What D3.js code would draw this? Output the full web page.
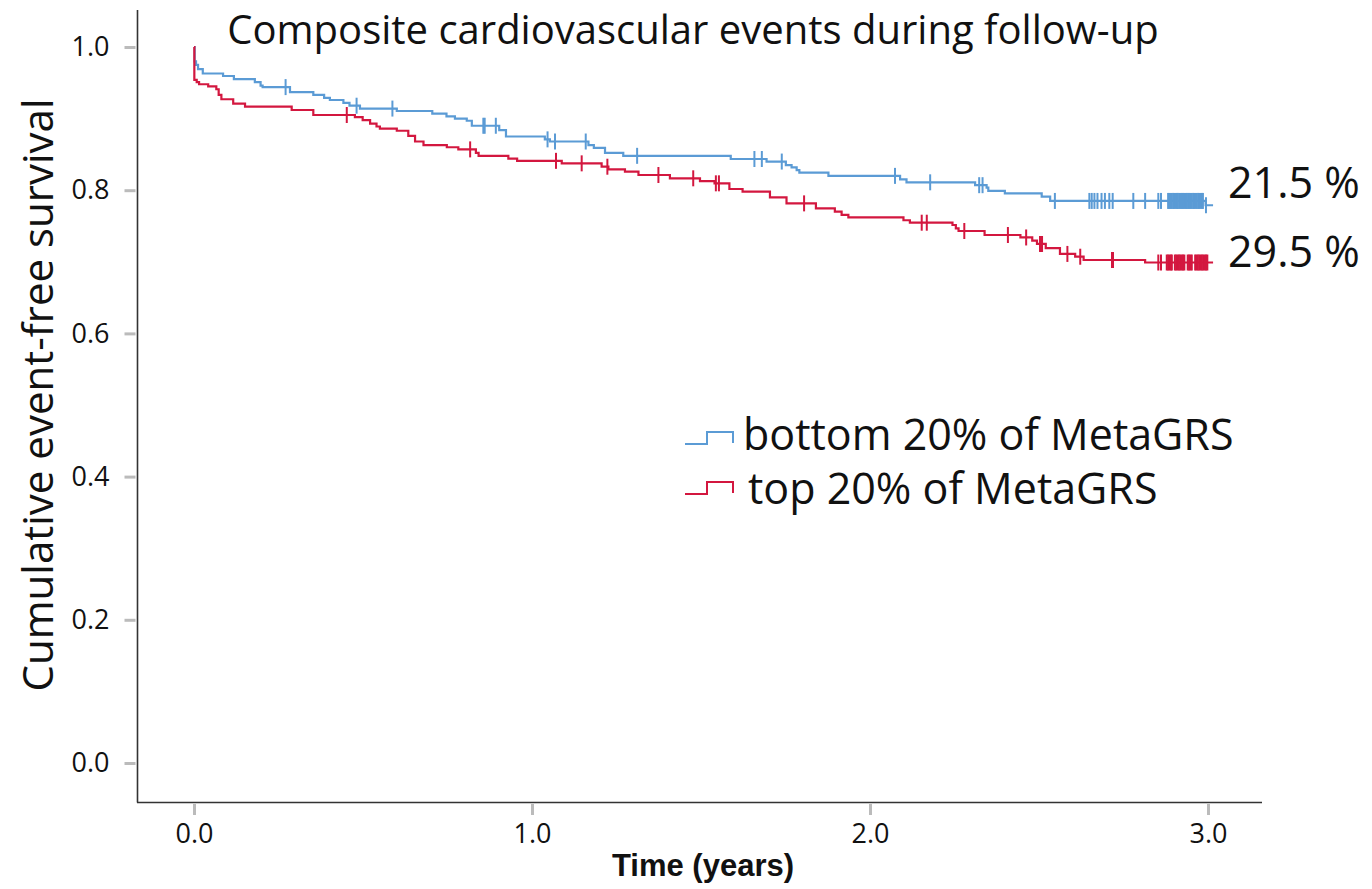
<!DOCTYPE html>
<html>
<head>
<meta charset="utf-8">
<script src="https://cdn.jsdelivr.net/npm/d3@7"></script>
<style>
  html, body { margin: 0; padding: 0; background: #fff; }
  svg { display: block; }
</style>
</head>
<body>
<svg id="chart" width="1372" height="889"></svg>
<script>
// ---------- data ----------
const titleText = "Composite cardiovascular events during follow-up";
const yLabelText = "Cumulative event-free survival";
const xLabelText = "Time (years)";
const xTickValues = [0, 1, 2, 3];
const xTickLabels = ["0.0", "1.0", "2.0", "3.0"];
const yTickValues = [0, 0.2, 0.4, 0.6, 0.8, 1.0];
const yTickLabels = ["0.0", "0.2", "0.4", "0.6", "0.8", "1.0"];
const seriesNames = ["bottom 20% of MetaGRS", "top 20% of MetaGRS"];
const endLabels = ["21.5 %", "29.5 %"];

// bottom 20% (blue) step function: event times and survival after each step
const blueTime = [0.000, 0.002, 0.006, 0.012, 0.026, 0.086, 0.118, 0.180, 0.197, 0.203, 0.284, 0.353, 0.385, 0.402, 0.442, 0.460, 0.491, 0.600, 0.705, 0.747, 0.772, 0.807, 0.822, 0.903, 0.923, 1.038, 1.053, 1.167, 1.183, 1.216, 1.270, 1.588, 1.694, 1.751, 1.768, 1.783, 1.791, 1.877, 2.089, 2.108, 2.311, 2.345, 2.350, 2.399, 2.508, 2.533, 2.993, 3.015];
const blueSurv = [1.000, 0.980, 0.975, 0.969, 0.963, 0.9595, 0.955, 0.951, 0.946, 0.944, 0.937, 0.933, 0.929, 0.926, 0.922, 0.918, 0.914, 0.9106, 0.907, 0.903, 0.900, 0.897, 0.890, 0.884, 0.875, 0.871, 0.868, 0.863, 0.859, 0.852, 0.848, 0.8436, 0.840, 0.835, 0.832, 0.828, 0.8245, 0.820, 0.815, 0.811, 0.807, 0.8035, 0.799, 0.7955, 0.791, 0.785, 0.779, 0.779];
const blueCensor = [0.271, 0.481, 0.587, 0.856, 0.860, 0.893, 1.046, 1.068, 1.159, 1.311, 1.658, 1.680, 1.739, 2.074, 2.178, 2.323, 2.333, 2.547, 2.649, 2.656, 2.664, 2.673, 2.685, 2.695, 2.708, 2.718, 2.779, 2.814, 2.853, 2.861, 2.882, 2.886, 2.889, 2.893, 2.897, 2.900, 2.904, 2.908, 2.911, 2.915, 2.919, 2.922, 2.926, 2.930, 2.934, 2.937, 2.941, 2.945, 2.948, 2.952, 2.956, 2.959, 2.963, 2.967, 2.971, 2.974, 2.978, 2.982, 2.985, 2.994];

// top 20% (red) step function
const redTime = [0.000, 0.001, 0.008, 0.015, 0.042, 0.066, 0.073, 0.081, 0.116, 0.151, 0.289, 0.353, 0.476, 0.499, 0.521, 0.540, 0.550, 0.600, 0.634, 0.654, 0.679, 0.748, 0.782, 0.834, 0.842, 0.930, 0.956, 1.088, 1.206, 1.226, 1.275, 1.315, 1.408, 1.497, 1.540, 1.584, 1.623, 1.704, 1.753, 1.840, 1.896, 1.916, 1.936, 2.099, 2.118, 2.244, 2.254, 2.262, 2.339, 2.445, 2.480, 2.494, 2.520, 2.562, 2.607, 2.632, 2.814, 3.015];
const redSurv = [1.000, 0.954, 0.951, 0.948, 0.945, 0.941, 0.933, 0.927, 0.921, 0.9166, 0.912, 0.905, 0.902, 0.898, 0.893, 0.889, 0.886, 0.883, 0.876, 0.868, 0.863, 0.860, 0.857, 0.852, 0.848, 0.844, 0.841, 0.8375, 0.8328, 0.829, 0.8259, 0.8212, 0.8166, 0.8128, 0.8096, 0.8017, 0.798, 0.790, 0.7816, 0.7747, 0.770, 0.7654, 0.762, 0.758, 0.7546, 0.7514, 0.7467, 0.743, 0.7374, 0.734, 0.7295, 0.7249, 0.719, 0.711, 0.7071, 0.7025, 0.699, 0.699];
const redCensor = [0.452, 0.817, 1.071, 1.147, 1.223, 1.374, 1.477, 1.544, 1.553, 1.805, 2.153, 2.168, 2.279, 2.408, 2.462, 2.503, 2.506, 2.509, 2.584, 2.622, 2.716, 2.719, 2.853, 2.861, 2.878, 2.882, 2.886, 2.890, 2.893, 2.902, 2.906, 2.910, 2.914, 2.918, 2.922, 2.926, 2.930, 2.940, 2.944, 2.948, 2.952, 2.962, 2.966, 2.970, 2.974, 2.978, 2.982, 2.986, 2.990, 2.994, 2.998];

// ---------- drawing ----------
const BLUE = "#5b9bd5";
const RED = "#d3173f";
const svg = d3.select("#chart");
svg.append("rect").attr("width", 1372).attr("height", 889).attr("fill", "#fff");

const x = d3.scaleLinear().domain([0, 3]).range([194, 1208]);
const y = d3.scaleLinear().domain([0, 1]).range([763, 47]);

// title (kept fully inside the picture)
svg.append("text")
  .attr("x", 693).attr("y", 44)
  .attr("text-anchor", "middle")
  .attr("font-family", "Open Sans")
  .attr("font-size", 40)
  .attr("fill", "#111")
  .text(titleText);

// axis lines
svg.append("line").attr("x1", 137.5).attr("x2", 137.5).attr("y1", 10).attr("y2", 802.5)
  .attr("stroke", "#333").attr("stroke-width", 1.6);
svg.append("line").attr("x1", 137).attr("x2", 1262).attr("y1", 802.5).attr("y2", 802.5)
  .attr("stroke", "#333").attr("stroke-width", 1.6);

// y axis
const yAxis = d3.axisLeft(y).tickValues(yTickValues)
  .tickFormat((d, i) => yTickLabels[i]).tickSize(11).tickPadding(15);
const gy = svg.append("g").attr("transform", "translate(135.5,0)").call(yAxis);
gy.select(".domain").remove();
gy.selectAll(".tick line").attr("stroke", "#bbb").attr("stroke-width", 3);
gy.selectAll(".tick text").attr("font-family", "Open Sans").attr("font-size", 27).attr("fill", "#111");

// x axis
const xAxis = d3.axisBottom(x).tickValues(xTickValues)
  .tickFormat((d, i) => xTickLabels[i]).tickSize(11).tickPadding(9);
const gx = svg.append("g").attr("transform", "translate(0,804)").call(xAxis);
gx.select(".domain").remove();
gx.selectAll(".tick line").attr("stroke", "#bbb").attr("stroke-width", 3);
gx.selectAll(".tick text").attr("font-family", "Open Sans").attr("font-size", 27).attr("fill", "#111");

// axis titles
svg.append("text")
  .attr("transform", "translate(53,395) rotate(-90)")
  .attr("text-anchor", "middle")
  .attr("font-family", "Open Sans")
  .attr("font-size", 42)
  .attr("fill", "#111")
  .text(yLabelText);

svg.append("text")
  .attr("x", 703).attr("y", 876)
  .attr("text-anchor", "middle")
  .attr("font-family", "Liberation Sans, Arial, sans-serif")
  .attr("font-weight", "bold")
  .attr("font-size", 31)
  .attr("fill", "#111")
  .text(xLabelText);

// curves
const series = [
  { time: blueTime, surv: blueSurv, censor: blueCensor, color: BLUE },
  { time: redTime, surv: redSurv, censor: redCensor, color: RED }
];
const line = d3.line().x(d => x(d[0])).y(d => y(d[1])).curve(d3.curveStepAfter);
const bis = d3.bisector(d => d).right;

series.forEach(s => {
  const pts = s.time.map((t, i) => [t, s.surv[i]]);
  svg.append("path").datum(pts)
    .attr("d", line)
    .attr("fill", "none")
    .attr("stroke", s.color)
    .attr("stroke-width", 2.2);
  const level = t => s.surv[Math.max(0, bis(s.time, t) - 1)];
  svg.append("g").selectAll("line").data(s.censor).join("line")
    .attr("x1", d => x(d)).attr("x2", d => x(d))
    .attr("y1", d => y(level(d)) - 8)
    .attr("y2", d => y(level(d)) + 8)
    .attr("stroke", s.color)
    .attr("stroke-width", 2);
});

// end labels
[[endLabels[0], 198], [endLabels[1], 267]].forEach(([t, yy]) => {
  svg.append("text").attr("x", 1228).attr("y", yy)
    .attr("font-family", "Open Sans").attr("font-size", 43).attr("fill", "#111")
    .text(t);
});

// legend
const legend = [
  { name: seriesNames[0], color: BLUE, lo: 444, hi: 432, tx: 743, ty: 450 },
  { name: seriesNames[1], color: RED, lo: 494, hi: 482, tx: 748, ty: 504 }
];
legend.forEach(l => {
  svg.append("path")
    .attr("d", `M685,${l.lo}H707V${l.hi}H733V${l.lo - 1}`)
    .attr("fill", "none").attr("stroke", l.color).attr("stroke-width", 2);
  svg.append("text").attr("x", l.tx).attr("y", l.ty)
    .attr("font-family", "Open Sans").attr("font-size", 43).attr("fill", "#111")
    .text(l.name);
});
</script>
</body>
</html>
